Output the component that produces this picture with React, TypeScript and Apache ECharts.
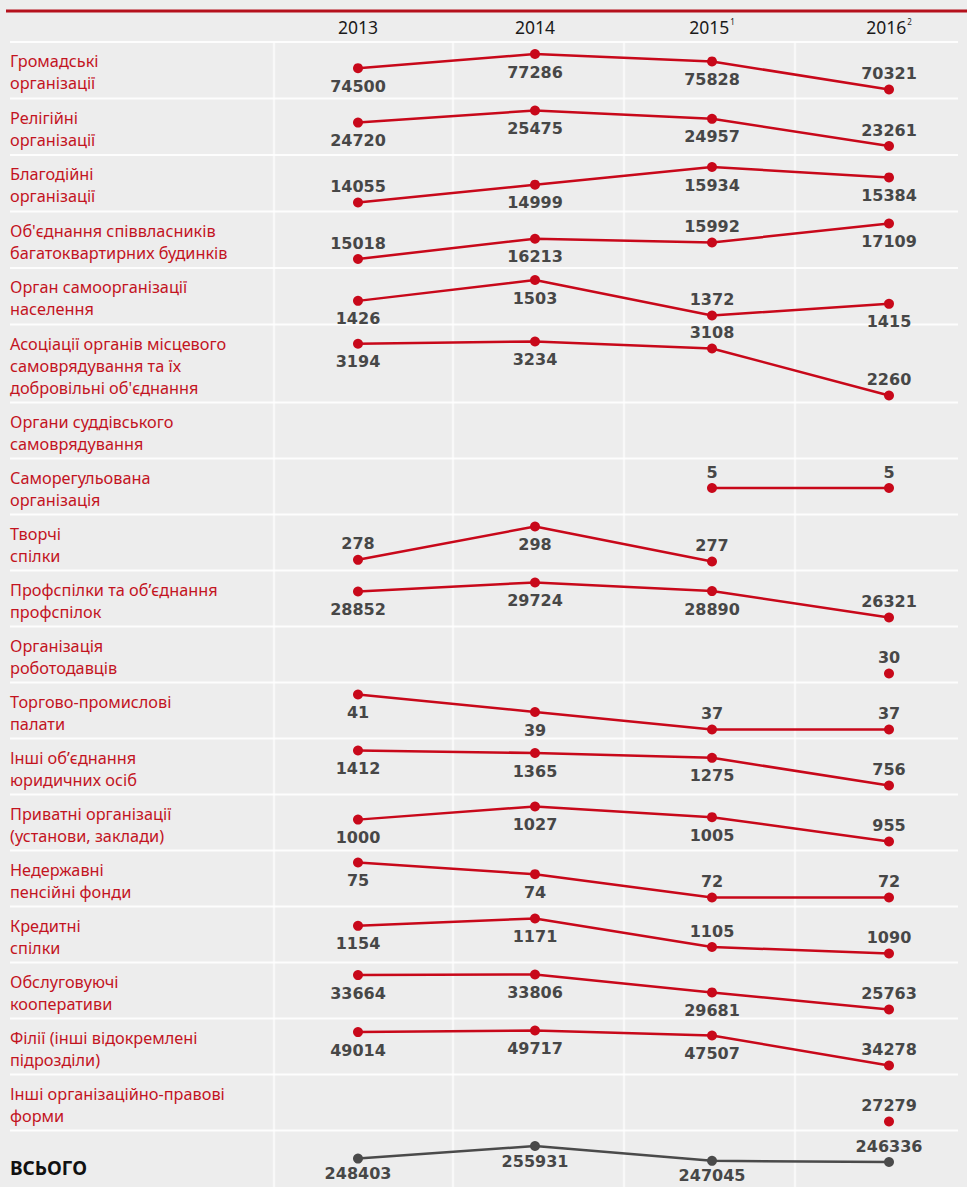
import React, { useEffect, useRef } from "react";
import * as echarts from "echarts";

const YEARS = ["2013", "2014", "2015", "2016"];
const YEAR_NOTES = ["", "", "1", "2"];

const CATEGORIES = [
  "Громадські\nорганізації",
  "Релігійні\nорганізації",
  "Благодійні\nорганізації",
  "Об'єднання співвласників\nбагатоквартирних будинків",
  "Орган самоорганізації\nнаселення",
  "Асоціації органів місцевого\nсамоврядування та їх\nдобровільні об'єднання",
  "Органи суддівського\nсамоврядування",
  "Саморегульована\nорганізація",
  "Творчі\nспілки",
  "Профспілки та об’єднання\nпрофспілок",
  "Організація\nроботодавців",
  "Торгово-промислові\nпалати",
  "Інші об’єднання\nюридичних осіб",
  "Приватні організації\n(установи, заклади)",
  "Недержавні\nпенсійні фонди",
  "Кредитні\nспілки",
  "Обслуговуючі\nкооперативи",
  "Філії (інші відокремлені\nпідрозділи)",
  "Інші організаційно-правові\nформи",
];
const TOTAL_LABEL = "ВСЬОГО";

const HROMADSKI = [74500, 77286, 75828, 70321];
const RELIHIINI = [24720, 25475, 24957, 23261];
const BLAHODIINI = [14055, 14999, 15934, 15384];
const OSBB = [15018, 16213, 15992, 17109];
const SAMOORH = [1426, 1503, 1372, 1415];
const ASOTSIATSII = [3194, 3234, 3108, 2260];
const SUDDIVSKI = [null, null, null, null];
const SAMOREH = [null, null, 5, 5];
const TVORCHI = [278, 298, 277, null];
const PROFSPILKY = [28852, 29724, 28890, 26321];
const ROBOTODAVTSI = [null, null, null, 30];
const TPP = [41, 39, 37, 37];
const INSHI_OBIEDNANNIA = [1412, 1365, 1275, 756];
const PRYVATNI = [1000, 1027, 1005, 955];
const NPF = [75, 74, 72, 72];
const KREDYTNI = [1154, 1171, 1105, 1090];
const OBSLUHOVUIUCHI = [33664, 33806, 29681, 25763];
const FILII = [49014, 49717, 47507, 34278];
const INSHI_FORMY = [null, null, null, 27279];
const TOTAL = [248403, 255931, 247045, 246336];

const ROWS = [
  HROMADSKI, RELIHIINI, BLAHODIINI, OSBB, SAMOORH, ASOTSIATSII, SUDDIVSKI,
  SAMOREH, TVORCHI, PROFSPILKY, ROBOTODAVTSI, TPP, INSHI_OBIEDNANNIA,
  PRYVATNI, NPF, KREDYTNI, OBSLUHOVUIUCHI, FILII, INSHI_FORMY, TOTAL,
];

// layout config (not data)
const ROW_H = [56.5, 56.5, 56.5, 56.5, 56.5, 78, 56, 56, 56, 56, 56, 56, 56, 56, 56, 56, 56, 56, 56, 56.5];
const START_Y = 42;
const LABEL_ABOVE_EXTRA: Record<number, number[]> = { 3: [2], 5: [2], 8: [0], 15: [2] };
const RED = "#c8081a";
const TEXT_RED = "#c3141f";
const GREY = "#4a4a4a";
const VAL_COLOR = "#474747";
const COL_LINES = [274, 453, 624, 795];

function buildOption() {
  const tops: number[] = [];
  let y = START_Y;
  ROW_H.forEach((h) => {
    tops.push(y);
    y += h;
  });

  const grids: any[] = [];
  const xAxes: any[] = [];
  const yAxes: any[] = [];
  const series: any[] = [];
  const graphics: any[] = [];

  graphics.push({
    type: "rect",
    shape: { x: 0, y: 0, width: 967, height: 1187 },
    style: { fill: "#ededed" },
    z: -10,
  });
  graphics.push({
    type: "line",
    shape: { x1: 6, y1: 11, x2: 967, y2: 11 },
    style: { stroke: "#b5111c", lineWidth: 3 },
  });
  tops.forEach((t) => {
    graphics.push({
      type: "line",
      shape: { x1: 10, y1: t, x2: 958, y2: t },
      style: { stroke: "rgba(255,255,255,0.85)", lineWidth: 2 },
      z: -5,
    });
  });
  COL_LINES.forEach((x) => {
    graphics.push({
      type: "line",
      shape: { x1: x, y1: START_Y, x2: x, y2: 1187 },
      style: { stroke: "rgba(255,255,255,0.6)", lineWidth: 2.5 },
      z: -5,
    });
  });

  ROWS.forEach((vals, i) => {
    const isTotal = i === ROWS.length - 1;
    const isTall = ROW_H[i] > 60;
    const padT = isTotal ? 15.5 : isTall ? 17 : 12;
    const padB = isTotal ? 25 : isTall ? 7 : 9;
    const top = tops[i] + padT;
    const height = ROW_H[i] - padT - padB;
    grids.push({ left: 358, width: 531, top, height });

    const present = vals.filter((v) => v != null) as number[];
    let yMin = 0, yMax = 1;
    let mn = 0;
    if (present.length) {
      mn = Math.min(...present);
      const mx = Math.max(...present);
      if (present.length === 1) {
        yMin = mn;
        yMax = mn + Math.max(1, Math.abs(mn));
      } else if (mx === mn) {
        yMin = mn - 1;
        yMax = mn + 1;
      } else {
        yMin = mn;
        yMax = mx;
      }
    }

    xAxes.push({
      type: "category",
      gridIndex: i,
      data: YEARS,
      boundaryGap: false,
      show: i === 0,
      position: "top",
      axisLine: { show: false },
      axisTick: { show: false },
      splitLine: { show: false },
      axisLabel: {
        show: i === 0,
        interval: 0,
        margin: 17,
        formatter: (v: string, idx: number) =>
          YEAR_NOTES[idx] ? `{y|${v}}{s|${YEAR_NOTES[idx]}}` : `{y|${v}}`,
        rich: {
          y: { fontSize: 17.5, fontFamily: "Noto Sans", color: "#1a1a1a", lineHeight: 20 },
          s: { fontSize: 8, fontFamily: "Noto Sans", color: "#1a1a1a", lineHeight: 20, verticalAlign: "top", padding: [0, 0, 8, 1] },
        },
      },
    });
    yAxes.push({ type: "value", gridIndex: i, min: yMin, max: yMax, show: false, splitLine: { show: false } });

    const extra = LABEL_ABOVE_EXTRA[i] || [];
    const color = isTotal ? GREY : RED;
    series.push({
      type: "line",
      xAxisIndex: i,
      yAxisIndex: i,
      clip: false,
      symbol: "circle",
      symbolSize: 10,
      showAllSymbol: true,
      connectNulls: false,
      lineStyle: { color, width: 2.5 },
      itemStyle: { color },
      label: {
        show: true,
        fontFamily: "DejaVu Sans",
        fontWeight: "bold",
        fontSize: 16,
        color: VAL_COLOR,
        formatter: (p: any) => String(p.value),
      },
      data: vals.map((v, j) => {
        if (v == null) return null;
        const above = v === mn || extra.includes(j);
        return {
          value: v,
          label: { position: above ? "top" : "bottom", distance: above ? 3 : isTotal ? 2 : 5 },
        };
      }),
    });

    const labelText = isTotal ? TOTAL_LABEL : CATEGORIES[i];
    graphics.push({
      type: "text",
      x: 10,
      y: isTotal ? tops[i] + 37 : tops[i] + ROW_H[i] / 2 + 2,
      style: {
        text: labelText,
        fontSize: isTotal ? 19 : 16.3,
        fontWeight: isTotal ? "bold" : "normal",
        fontFamily: "Noto Sans",
        fill: isTotal ? "#111111" : TEXT_RED,
        verticalAlign: "middle",
        lineHeight: 22,
      },
    });
  });

  return {
    animation: false,
    backgroundColor: "#ededed",
    grid: grids,
    xAxis: xAxes,
    yAxis: yAxes,
    series,
    graphic: graphics,
  };
}

export default function App() {
  const ref = useRef<HTMLDivElement>(null);
  useEffect(() => {
    if (!ref.current) return;
    const chart = echarts.init(ref.current, null, { renderer: "svg", width: 967, height: 1187 });
    chart.setOption(buildOption() as any);
    return () => chart.dispose();
  }, []);
  return (
    <div
      ref={ref}
      style={{ position: "absolute", left: 0, top: 0, width: 967, height: 1187, background: "#ededed" }}
    />
  );
}
